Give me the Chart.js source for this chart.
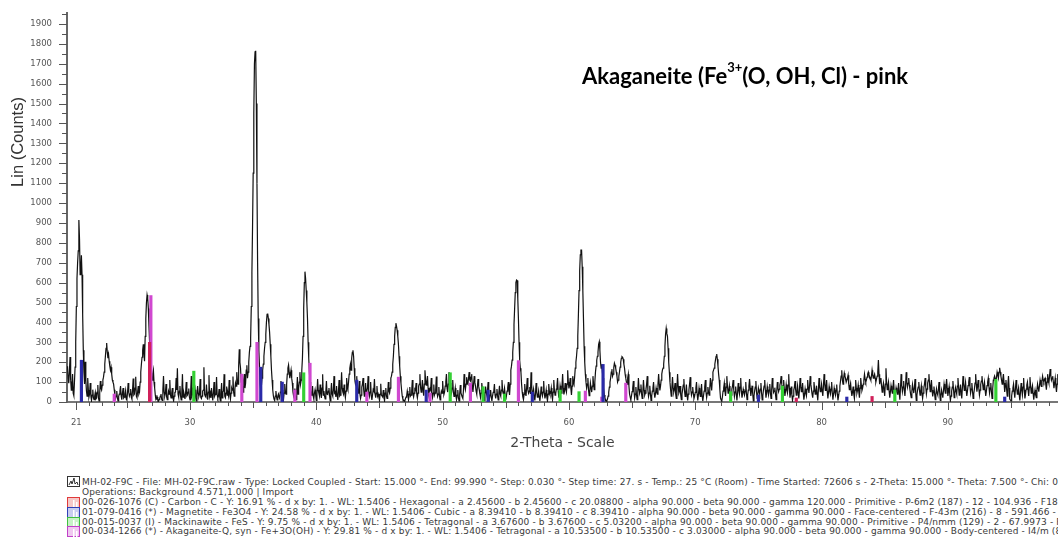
<!DOCTYPE html>
<html><head>
<meta charset="utf-8">
<title>MH-02-F9C</title>
<script src="https://cdn.jsdelivr.net/npm/chart.js@4"></script>
<style>
  html, body { margin:0; padding:0; background:#fff }
  #wrap { position:relative; width:1058px; height:543px; overflow:hidden }
  #chart { position:absolute; left:0; top:0 }
  .note { position:absolute; left:582px; top:65px; font:bold 22px Lato, sans-serif; color:#000; white-space:nowrap; line-height:22px }
  .note sup { font-size:13px; line-height:0; position:relative; top:-4px }
  .leg { position:absolute; left:82px; font:9px 'DejaVu Sans', sans-serif; letter-spacing:0.15px; color:#3a3a3a; white-space:nowrap; line-height:10px }
  .ico { position:absolute; left:67px }
</style>
</head><body>
<div id="wrap">
  <canvas id="chart" width="1058" height="460"></canvas>
  <div class="note">Akaganeite (Fe<sup>3+</sup>(O, OH, Cl) - pink</div>

  <svg class="ico" style="top:476px" width="14" height="12"><rect x="0.5" y="0.5" width="12" height="10" fill="#fff" stroke="#333"/><polyline points="2,9 4,5 5,8 7,2 8,8 10,6 11,9" fill="none" stroke="#333" stroke-width="1"/></svg>
  <div class="leg" style="top:477px">MH-02-F9C - File: MH-02-F9C.raw - Type: Locked Coupled - Start: 15.000 °- End: 99.990 °- Step: 0.030 °- Step time: 27. s - Temp.: 25 °C (Room) - Time Started: 72606 s - 2-Theta: 15.000 °- Theta: 7.500 °- Chi: 0.00 °</div>
  <div class="leg" style="top:487px">Operations: Background 4.571,1.000 | Import</div>

  <svg class="ico" style="top:497px" width="14" height="12"><rect x="0.5" y="0.5" width="12" height="10" fill="#f6c9c9" stroke="#e03a3a"/><rect x="6" y="3" width="1.5" height="8" fill="#fff"/><rect x="9" y="5" width="1.5" height="6" fill="#fff"/></svg>
  <div class="leg" style="top:497px">00-026-1076 (C) - Carbon - C - Y: 16.91 % - d x by: 1. - WL: 1.5406 - Hexagonal - a 2.45600 - b 2.45600 - c 20.08800 - alpha 90.000 - beta 90.000 - gamma 120.000 - Primitive - P-6m2 (187) - 12 - 104.936 - F18= 36(</div>

  <svg class="ico" style="top:507px" width="14" height="12"><rect x="0.5" y="0.5" width="12" height="10" fill="#c9cdf0" stroke="#3040b8"/><rect x="6" y="3" width="1.5" height="8" fill="#fff"/><rect x="9" y="5" width="1.5" height="6" fill="#fff"/></svg>
  <div class="leg" style="top:507px">01-079-0416 (*) - Magnetite - Fe3O4 - Y: 24.58 % - d x by: 1. - WL: 1.5406 - Cubic - a 8.39410 - b 8.39410 - c 8.39410 - alpha 90.000 - beta 90.000 - gamma 90.000 - Face-centered - F-43m (216) - 8 - 591.466 - I/Ic P</div>

  <svg class="ico" style="top:517px" width="14" height="12"><rect x="0.5" y="0.5" width="12" height="10" fill="#c8f2c8" stroke="#40c040"/><rect x="6" y="3" width="1.5" height="8" fill="#fff"/><rect x="9" y="5" width="1.5" height="6" fill="#fff"/></svg>
  <div class="leg" style="top:517px">00-015-0037 (I) - Mackinawite - FeS - Y: 9.75 % - d x by: 1. - WL: 1.5406 - Tetragonal - a 3.67600 - b 3.67600 - c 5.03200 - alpha 90.000 - beta 90.000 - gamma 90.000 - Primitive - P4/nmm (129) - 2 - 67.9973 - F22=</div>

  <svg class="ico" style="top:526px" width="14" height="12"><rect x="0.5" y="0.5" width="12" height="10" fill="#f0c8f0" stroke="#c040c8"/><rect x="6" y="3" width="1.5" height="8" fill="#fff"/><rect x="9" y="5" width="1.5" height="6" fill="#fff"/></svg>
  <div class="leg" style="top:526px">00-034-1266 (*) - Akaganeite-Q, syn - Fe+3O(OH) - Y: 29.81 % - d x by: 1. - WL: 1.5406 - Tetragonal - a 10.53500 - b 10.53500 - c 3.03000 - alpha 90.000 - beta 90.000 - gamma 90.000 - Body-centered - I4/m (87) - 8</div>
</div>
<script>
// counts: countsNN at NN.x0 degrees (0.1 step), halfNN at the 0.05 points in between
const scanStep = 0.1;
const start20 = 20.3;
const counts20 = [180,95,226,60,140,32,175,
  480,700,915,640,738,440,150,202,55,120,
  25,95,8,62,12,48,20,85,5,105,
  60,110,150,230,296,220,205,160,140,100,
  62,18,55,6,40,80,12,70,25,58,
  10,95,30,65,15,118,40,127,22,80,
  50,150,225,290,205,420,538,470,300,165,
  110,160,70,12,25,4,18,40,8,130,
  30,90,12,55,110,20,70,6,48,120,
  170,25,80,10,140,50,15,100,35,68];
const half20 = [120,150,110,90,45,100,300,
  620,760,820,660,640,260,90,110,30,60,
  40,30,35,22,30,15,50,20,45,70,
  85,125,190,270,250,240,180,175,110,90,
  35,30,20,28,55,30,45,20,40,15,
  45,50,40,25,60,35,70,30,50,40,
  100,190,260,240,330,500,520,380,220,130,
  140,100,35,15,10,12,30,15,60,50,
  45,25,30,40,35,45,20,30,50,60,
  40,55,30,45,25,35,45,30,50,25];
const counts30 = [10,130,40,155,62,6,80,28,115,18,
  55,175,30,88,12,135,45,70,8,100,
  38,125,20,65,5,95,50,140,22,78,
  45,110,15,70,128,30,95,150,90,265,
  170,120,50,140,95,185,150,250,320,650,
  1150,1700,1765,1100,420,180,55,120,190,270,
  340,440,420,350,230,110,30,8,55,10,
  40,18,105,62,12,90,40,140,186,120,
  160,95,30,68,12,125,70,150,110,220,
  470,655,560,420,220,100,35,80,15,62];
const half30 = [50,30,70,40,20,35,45,40,25,30,
  60,40,25,40,50,30,20,35,45,30,
  40,35,30,25,40,20,55,30,45,35,
  30,40,45,60,50,65,80,110,180,200,
  100,80,110,70,160,120,200,280,480,880,
  1450,1760,1500,700,260,90,80,160,230,300,
  400,445,390,290,160,60,15,30,25,30,
  25,50,40,35,45,55,90,170,150,140,
  120,50,45,30,60,40,100,90,160,330,
  600,620,500,300,150,60,40,30,45,35];
const counts40 = [8,115,45,88,20,140,55,15,105,38,
  70,6,95,30,130,50,80,10,110,35,
  150,50,88,22,120,65,140,190,220,260,
  170,90,130,45,105,18,75,120,30,95,
  55,130,28,100,10,62,115,22,80,40,
  8,92,30,60,5,70,18,100,45,120,
  150,230,330,396,360,290,180,95,30,10,
  5,25,55,12,75,35,110,25,65,95,
  20,80,140,50,110,32,160,85,130,40,
  68,120,22,88,45,128,28,75,10,55];
const half40 = [40,60,30,45,70,35,30,50,40,55,
  30,45,40,60,45,25,35,50,30,60,
  70,40,45,55,80,100,170,160,250,230,
  110,100,70,60,40,35,90,60,50,40,
  70,45,50,30,35,55,40,45,30,25,
  40,35,25,30,45,30,40,55,70,130,
  190,290,375,380,330,230,130,60,15,8,
  15,30,35,40,30,55,40,45,60,40,
  45,90,75,70,60,90,110,100,70,55,
  60,40,45,35,60,50,40,30,35,45];
const counts50 = [105,38,80,140,50,150,95,45,110,28,
  70,12,60,6,85,35,18,140,62,125,
  90,150,105,140,50,130,80,40,115,62,
  22,95,50,8,78,35,100,15,60,6,
  48,90,18,65,10,82,30,110,42,70,
  12,55,100,35,160,210,300,470,600,610,
  420,210,150,50,12,90,30,120,45,75,
  150,35,65,8,95,25,55,5,78,30,
  105,18,60,6,90,40,70,12,110,35,
  65,120,22,82,45,140,38,95,50,160];
const half50 = [55,50,100,70,90,110,60,70,50,45,
  30,35,20,40,45,25,60,80,90,95,
  120,110,125,80,90,100,55,75,80,40,
  45,60,25,35,50,55,40,35,25,30,
  55,35,40,30,45,40,60,55,50,35,
  30,70,60,90,180,250,390,550,613,520,
  300,170,90,25,40,50,70,60,55,40,
  80,45,30,40,50,30,25,35,45,50,
  45,35,25,40,55,45,30,50,60,40,
  80,55,40,60,80,70,55,65,90,100];
const counts60 = [68,120,35,130,90,170,230,330,560,740,
  764,560,280,140,70,120,32,95,50,130,
  62,150,210,250,303,200,190,120,35,10,
  6,30,75,120,165,140,195,170,130,110,
  150,200,228,215,170,120,90,140,40,10,
  52,105,20,75,12,120,45,88,18,110,
  35,65,130,28,82,8,55,100,22,70,
  40,140,58,110,160,190,280,370,330,200,
  100,30,125,50,95,18,140,45,80,12,
  62,115,28,88,8,60,125,35,75,18];
const half60 = [85,70,80,100,125,200,270,440,660,764,
  680,420,200,100,90,60,55,70,80,90,
  100,180,230,290,260,170,150,70,20,8,
  15,50,100,150,130,175,185,150,100,130,
  175,220,225,190,140,100,120,80,25,30,
  70,55,40,35,50,65,55,40,50,60,
  45,90,60,45,40,30,70,45,40,50,
  90,90,80,140,170,230,340,345,270,150,
  60,75,70,65,40,70,80,55,35,40,
  85,55,50,35,40,90,60,50,40,30];
const counts70 = [48,100,8,70,28,90,5,55,110,22,
  75,35,120,58,150,170,210,241,180,110,
  20,4,55,95,30,130,45,80,12,65,
  110,28,78,8,95,40,120,22,65,35,
  100,12,60,115,30,82,6,55,105,18,
  70,40,95,10,60,110,22,78,35,90,
  18,120,48,72,12,100,52,85,130,62,
  110,30,88,45,140,22,78,8,60,105,
  35,82,18,120,52,95,12,66,30,110,
  45,130,65,22,100,40,82,8,120,52];
const half70 = [70,40,35,45,55,30,30,75,50,45,
  50,70,85,110,160,190,230,215,140,60,
  10,25,70,55,75,80,55,40,35,80,
  60,50,40,45,60,75,55,40,50,55,
  45,35,80,70,55,40,30,75,50,35,
  55,65,45,30,80,60,45,55,60,45,
  60,80,55,40,50,70,65,100,90,80,
  65,55,60,85,70,45,35,30,75,60,
  55,45,60,80,70,45,35,45,65,70,
  80,90,40,55,65,55,40,60,75,65];
const counts80 = [90,30,140,58,110,18,78,40,100,12,
  70,35,88,8,55,105,160,90,145,120,
  100,135,62,95,30,78,18,110,45,85,
  22,120,58,90,140,100,125,150,130,110,
  160,120,140,100,130,211,90,120,50,95,
  30,170,62,100,22,82,45,110,18,72,
  40,95,12,140,52,105,30,150,75,120,
  62,22,88,45,115,8,60,100,35,82,
  18,72,120,40,95,140,52,110,28,78,
  12,66,35,100,8,60,22,90,45,115];
const half80 = [55,80,90,80,55,45,55,65,45,40,
  50,60,40,30,80,130,110,120,130,100,
  120,90,80,55,50,40,60,70,60,50,
  70,85,70,110,115,110,140,135,120,130,
  135,130,120,115,150,140,110,80,75,65,
  90,100,80,55,50,60,70,55,45,55,
  60,45,70,85,75,60,80,100,95,85,
  40,55,65,70,50,35,75,60,55,45,
  45,90,75,65,110,90,80,60,50,40,
  40,45,60,50,35,40,55,65,80,70];
const counts90 = [30,78,8,55,105,22,72,40,120,35,
  88,18,130,58,100,30,82,125,45,95,
  18,65,140,52,110,35,88,130,62,100,
  30,82,120,45,95,18,110,130,100,150,
  120,172,130,90,140,50,110,30,130,15,
  5,55,90,22,110,40,72,8,95,35,
  120,18,65,100,30,125,45,82,12,60,
  22,90,52,110,78,130,100,120,62,140,
  95,166,110,130,70,120,50,140];
const half90 = [55,40,30,75,60,45,55,80,70,60,
  50,70,90,75,60,55,100,80,65,55,
  40,95,90,80,70,60,105,95,80,60,
  55,100,80,70,50,65,120,115,125,135,
  150,150,110,115,95,80,65,85,70,10,
  30,70,50,65,70,55,35,50,60,75,
  60,40,85,60,75,80,65,45,40,35,
  60,70,80,90,105,110,115,90,100,110,
  130,135,120,100,95,80,90,120];

// reference card sticks (2-theta, height in counts)
const carbonPos = [26.8, 78.0, 84.0];
const carbonInt = [300, 20, 28];
const magnetitePos = [21.4, 35.6, 37.3, 43.2, 48.7, 53.6, 57.1, 62.7, 75.0, 82.0, 94.5];
const magnetiteInt = [210, 175, 100, 110, 60, 60, 50, 189, 35, 25, 25];
const mackinawitePos = [30.3, 39.0, 50.6, 53.2, 54.9, 59.3, 60.8, 72.8, 76.9, 85.8, 93.8];
const mackinawiteInt = [155, 147, 147, 77, 40, 60, 52, 52, 80, 60, 114];
const akaganeitePos = [24.0, 26.9, 34.1, 35.3, 38.3, 39.5, 44.0, 46.5, 49.0, 52.2, 56.0, 61.3, 62.6, 64.5];
const akaganeiteInt = [40, 535, 140, 300, 60, 195, 50, 125, 45, 95, 208, 55, 25, 95];

const xTickLabels = [21, 30, 40, 50, 60, 70, 80, 90];
const yTickLabels = [0,100,200,300,400,500,600,700,800,900,1000,1100,1200,1300,1400,1500,1600,1700,1800,1900];
const xMin = 20.26, xMax = 98.72, yMax = 1955;
const xTitle = '2-Theta - Scale';
const yTitle = 'Lin (Counts)';

const segments = [[start20, counts20, half20], [30, counts30, half30], [40, counts40, half40], [50, counts50, half50],
                  [60, counts60, half60], [70, counts70, half70], [80, counts80, half80], [90, counts90, half90]];
const pattern = [];
segments.forEach(([s, arr, half]) => arr.forEach((c, i) => {
  const t = s + i * scanStep;
  pattern.push({ x: Math.round(t * 100) / 100, y: c });
  if (half[i] !== undefined) pattern.push({ x: Math.round((t + scanStep / 2) * 100) / 100, y: half[i] });
}));

const sticks = (pos, h) => pos.map((p, i) => ({ x: p, y: h[i] }));
const stickSet = (label, pos, h, color) => ({
  type: 'bar', label, data: sticks(pos, h), backgroundColor: color,
  barThickness: 2.5, grouped: false, order: 1
});

const axisMarks = {
  id: 'axisMarks',
  afterDraw(chart) {
    const { ctx, chartArea, scales: { x, y } } = chart;
    ctx.save();
    ctx.strokeStyle = '#555';
    ctx.lineWidth = 1;
    ctx.beginPath();
    for (let v = 0; v <= yMax; v += 50) {
      const py = Math.round(y.getPixelForValue(v)) + 0.5;
      const len = v % 100 === 0 ? 8 : 5;
      ctx.moveTo(chartArea.left - len, py); ctx.lineTo(chartArea.left, py);
    }
    for (let d = 21; d <= 98; d++) {
      const px = Math.round(x.getPixelForValue(d)) + 0.5;
      const len = (d % 10 === 0 || d === 21) ? 8 : d % 5 === 0 ? 6 : 4;
      ctx.moveTo(px, chartArea.bottom); ctx.lineTo(px, chartArea.bottom + len);
    }
    ctx.stroke();
    ctx.fillStyle = '#444';
    ctx.textAlign = 'center';
    ctx.textBaseline = 'middle';
    ctx.font = '14px "DejaVu Sans", sans-serif';
    ctx.fillText(xTitle, (chartArea.left + chartArea.right) / 2, 443);
    ctx.translate(18, 142);
    ctx.rotate(-Math.PI / 2);
    ctx.fillStyle = '#333';
    ctx.font = '16.5px "Liberation Sans", Arial, sans-serif';
    ctx.fillText(yTitle, 0, 0);
    ctx.restore();
  }
};

new Chart(document.getElementById('chart'), {
  type: 'line',
  data: {
    datasets: [
      stickSet('Carbon', carbonPos, carbonInt, '#d0205a'),
      stickSet('Magnetite', magnetitePos, magnetiteInt, '#2a2aa8'),
      stickSet('Mackinawite', mackinawitePos, mackinawiteInt, '#34d034'),
      stickSet('Akaganeite', akaganeitePos, akaganeiteInt, '#d048d0'),
      { type: 'line', label: 'MH-02-F9C', data: pattern, borderColor: '#111', borderWidth: 1.2,
        pointRadius: 0, tension: 0, fill: false, order: 5 }
    ]
  },
  options: {
    responsive: false,
    animation: false,
    devicePixelRatio: 1,
    layout: { padding: { top: 13, right: 0, left: 0, bottom: 0 } },
    plugins: { legend: { display: false }, tooltip: { enabled: false } },
    scales: {
      x: {
        type: 'linear', min: xMin, max: xMax, offset: false,
        grid: { display: false, drawTicks: true, tickLength: 8 },
        border: { display: true, color: '#777', width: 2 },
        afterBuildTicks: s => { s.ticks = xTickLabels.map(v => ({ value: v })); },
        ticks: { padding: 8, maxRotation: 0, autoSkip: false, color: '#555',
                 font: { family: 'DejaVu Sans', size: 8.5 }, callback: v => String(v) },
        afterFit: s => { s.height = 58; }
      },
      y: {
        min: 0, max: yMax,
        grid: { display: false, drawTicks: true, tickLength: 8 },
        border: { display: true, color: '#666', width: 2 },
        afterBuildTicks: s => { s.ticks = yTickLabels.map(v => ({ value: v })); },
        ticks: { padding: 7, color: '#555', font: { family: 'DejaVu Sans', size: 8.5 }, callback: v => String(v) },
        afterFit: s => { s.width = 67; }
      }
    }
  },
  plugins: [axisMarks]
});
</script>
</body></html>
